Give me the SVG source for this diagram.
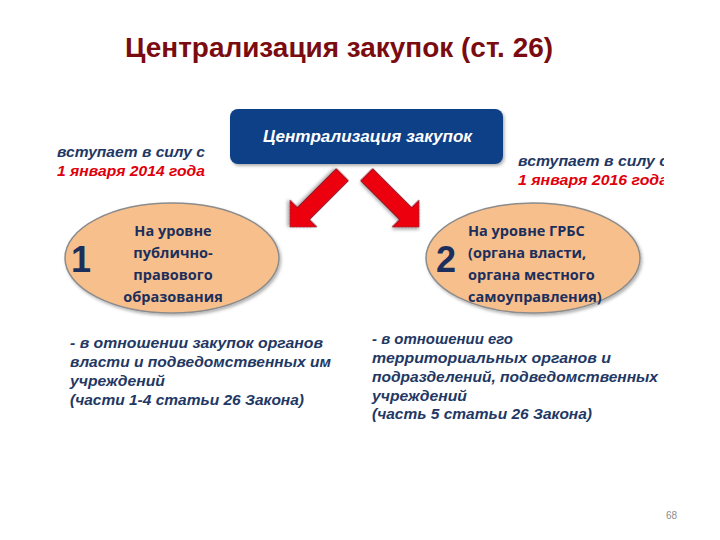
<svg xmlns="http://www.w3.org/2000/svg" width="720" height="540" viewBox="0 0 720 540">
<defs>
<style>
.title{font-family:"Liberation Sans",Arial,sans-serif;font-weight:bold;font-size:27px;fill:#7a0c10}
.it{font-family:"Liberation Sans",Arial,sans-serif;font-weight:bold;font-style:italic;font-size:15px;fill:#1f3864}
.red{fill:#e0000b}
.oval{fill:#f7bf8c;stroke:#8c8c8c;stroke-width:1.5}
.ot{font-family:"Open Sans","Liberation Sans",sans-serif;font-weight:bold;font-size:14.5px;fill:#1c2f5c}
.num{font-family:"Liberation Sans",Arial,sans-serif;font-weight:bold;font-size:36px;fill:#1c2f5c}
.arrow{fill:#ec0010;stroke:#7a1020;stroke-width:0.8}
</style>
<clipPath id="clipR"><rect x="500" y="140" width="164" height="60"/></clipPath>
<filter id="sh" x="-10%" y="-10%" width="130%" height="140%"><feDropShadow dx="1.5" dy="2" stdDeviation="1.5" flood-color="#000" flood-opacity="0.3"/></filter>
<path id="arr" d="M0,0 L-19,-19 L-19,-8.5 L-74,-8.5 L-74,8.5 L-19,8.5 L-19,19 Z"/>
</defs>
<rect width="720" height="540" fill="#ffffff"/>
<text class="title" x="125" y="57" textLength="428" lengthAdjust="spacingAndGlyphs">Централизация закупок (ст. 26)</text>

<g id="central">
<rect x="230" y="109" width="273" height="55" rx="8" fill="#0b3f87" filter="url(#sh)"/>
<text x="263" y="142" textLength="209" lengthAdjust="spacingAndGlyphs" font-family="Liberation Sans, Arial, sans-serif" font-weight="bold" font-style="italic" font-size="16.5" fill="#ffffff">Централизация закупок</text>
</g>

<g id="date1">
<text class="it" x="57" y="157" textLength="148" lengthAdjust="spacingAndGlyphs">вступает в силу с</text>
<text class="it red" x="57" y="176" textLength="148" lengthAdjust="spacingAndGlyphs">1 января 2014 года</text>
</g>
<g id="date2" clip-path="url(#clipR)">
<text class="it" x="518" y="166" textLength="150" lengthAdjust="spacingAndGlyphs">вступает в силу с</text>
<text class="it red" x="518" y="185" textLength="150" lengthAdjust="spacingAndGlyphs">1 января 2016 года</text>
</g>

<g id="connectors">
<use href="#arr" class="arrow" transform="translate(290,227) rotate(135)" filter="url(#sh)"/>
<use href="#arr" class="arrow" transform="translate(419,227) rotate(45)" filter="url(#sh)"/>
</g>

<g id="level1">
<ellipse class="oval" cx="172" cy="258" rx="107" ry="55" filter="url(#sh)"/>
<text class="num" x="71" y="272">1</text>
<text class="ot" x="173" y="236" text-anchor="middle">На уровне</text>
<text class="ot" x="173" y="258" text-anchor="middle">публично-</text>
<text class="ot" x="173" y="280" text-anchor="middle">правового</text>
<text class="ot" x="173" y="302" text-anchor="middle">образования</text>
</g>

<g id="level2">
<ellipse class="oval" cx="533" cy="258" rx="107" ry="55" filter="url(#sh)"/>
<text class="num" x="436" y="272">2</text>
<text class="ot" x="468" y="236">На уровне ГРБС</text>
<text class="ot" x="468" y="258">(органа власти,</text>
<text class="ot" x="468" y="280">органа местного</text>
<text class="ot" x="468" y="302">самоуправления)</text>
</g>

<g id="desc1">
<text class="it" x="70" y="348" textLength="253" lengthAdjust="spacingAndGlyphs">- в отношении закупок органов</text>
<text class="it" x="70" y="367" textLength="261" lengthAdjust="spacingAndGlyphs">власти и подведомственных им</text>
<text class="it" x="70" y="386" textLength="95" lengthAdjust="spacingAndGlyphs">учреждений</text>
<text class="it" x="70" y="405" textLength="234" lengthAdjust="spacingAndGlyphs">(части 1-4 статьи 26 Закона)</text>
</g>

<g id="desc2">
<text class="it" x="372" y="344" textLength="141" lengthAdjust="spacingAndGlyphs">- в отношении его</text>
<text class="it" x="372" y="363" textLength="239" lengthAdjust="spacingAndGlyphs">территориальных органов и</text>
<text class="it" x="372" y="382" textLength="286" lengthAdjust="spacingAndGlyphs">подразделений, подведомственных</text>
<text class="it" x="372" y="401" textLength="95" lengthAdjust="spacingAndGlyphs">учреждений</text>
<text class="it" x="372" y="419" textLength="220" lengthAdjust="spacingAndGlyphs">(часть 5 статьи 26 Закона)</text>
</g>

<text x="666" y="519" font-family="Liberation Sans, Arial, sans-serif" font-size="10" fill="#8c8c8c">68</text>
</svg>
